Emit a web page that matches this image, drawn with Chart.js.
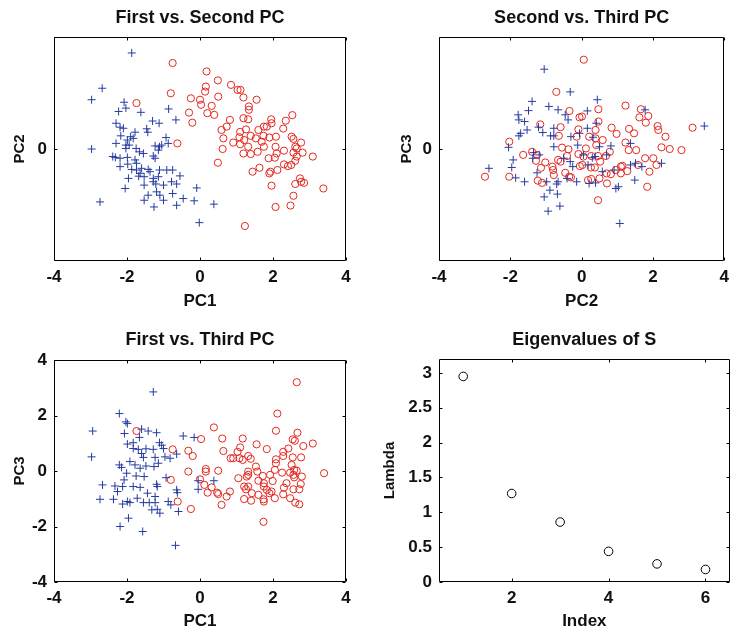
<!DOCTYPE html>
<html>
<head>
  <meta charset="utf-8">
  <title>PCA scores and eigenvalues</title>
  <script src="https://cdn.jsdelivr.net/npm/chart.js"></script>
  <style>
    body { margin: 0; padding: 0; background: #fff; overflow: hidden; }
    #wrap { position: relative; width: 735px; height: 630px; }
    .panel { position: absolute; }
    .panel canvas { display: block; }
  </style>
</head>
<body>
<div id="wrap">
  <div class="panel" style="left:0;top:0"><canvas id="c1" width="367" height="315"></canvas></div>
  <div class="panel" style="left:367px;top:0"><canvas id="c2" width="368" height="315"></canvas></div>
  <div class="panel" style="left:0;top:315px"><canvas id="c3" width="367" height="315"></canvas></div>
  <div class="panel" style="left:367px;top:315px"><canvas id="c4" width="368" height="315"></canvas></div>
</div>

<script>
// scores, [x, y] per point
const pc12Blue = [
  [-1.87,3.43],[-2.68,2.17],[-2.97,1.76],[-2.08,1.67],[-2.03,1.46],[-2.23,1.34],[-1.62,1.31],[-0.86,1.43],
  [-0.66,1.04],[-2.30,0.92],[-2.19,0.78],[-1.30,1.00],[-1.12,0.92],[-1.46,0.72],[-1.43,0.60],[-1.78,0.60],
  [-2.17,0.47],[-1.90,0.44],[-1.99,0.32],[-1.83,0.38],[-2.30,0.20],[-2.03,0.14],[-0.93,0.41],[-1.05,0.14],
  [-1.23,0.11],[-0.87,0.20],[-2.97,0.00],[-2.03,0.02],[-1.75,0.02],[-1.66,-0.10],[-1.55,-0.16],[-1.14,-0.04],
  [-1.28,-0.25],[-1.23,-0.33],[-2.39,-0.27],[-2.19,-0.33],[-1.99,-0.30],[-1.74,-0.51],[-2.19,-0.63],[-1.87,-0.73],
  [-1.74,-0.75],[-1.64,-0.87],[-1.53,-0.99],[-1.42,-0.73],[-1.11,-0.75],[-0.91,-0.75],[-0.75,-0.75],[-0.55,-0.96],
  [-1.96,-1.05],[-1.28,-1.05],[-1.21,-1.25],[-1.53,-1.29],[-1.00,-1.29],[-0.64,-1.25],[-2.05,-1.41],[-1.19,-1.53],
  [-1.42,-1.65],[-1.10,-1.65],[-0.75,-1.59],[-0.09,-1.39],[-1.53,-1.83],[-1.00,-1.83],[-0.46,-1.77],[-0.16,-1.85],
  [0.38,-1.97],[-0.64,-2.01],[-1.26,-2.07],[-2.74,-1.89],[-0.02,-2.63],[-1.94,0.14],[-1.14,-0.99],[-1.37,-0.81],
  [-1.60,-0.69],[-1.68,-0.97],[-1.98,-0.54],[-2.32,-0.30],[-1.11,0.08],[-0.78,-1.17],[-1.28,-1.17],[-1.78,-0.39],
  [-2.10,0.74]
];
const pc12Red = [
  [-0.75,3.07],[0.18,2.77],[0.49,2.45],[0.16,2.23],[0.14,2.05],[-0.80,1.99],[-1.74,1.64],[-0.25,1.81],
  [0.00,1.76],[0.50,1.87],[0.85,2.29],[1.03,2.11],[1.11,2.11],[1.19,1.84],[1.55,1.76],[0.03,1.58],
  [0.32,1.54],[-0.30,1.30],[-0.21,0.94],[0.20,1.28],[0.39,1.22],[1.34,1.52],[1.34,1.40],[0.82,1.04],
  [1.19,1.10],[1.32,1.06],[1.95,1.06],[1.96,0.92],[2.35,1.01],[2.53,1.21],[0.73,0.80],[0.59,0.68],
  [1.83,0.80],[1.60,0.68],[1.10,0.61],[1.26,0.70],[2.28,0.73],[0.64,0.38],[0.91,0.23],[1.08,0.42],
  [1.39,0.47],[1.53,0.38],[1.74,0.47],[2.08,0.44],[2.51,0.44],[2.56,0.36],[2.77,0.23],[1.10,0.17],
  [1.32,0.08],[1.21,0.32],[1.69,0.26],[1.75,0.08],[2.07,0.08],[2.61,0.08],[2.65,0.02],[0.62,0.00],
  [1.19,-0.16],[1.39,-0.18],[1.58,-0.10],[2.30,-0.06],[2.56,-0.13],[2.81,-0.13],[-0.62,0.20],[0.49,-0.49],
  [1.88,-0.33],[2.05,-0.31],[2.65,-0.27],[3.09,-0.27],[1.63,-0.67],[1.44,-0.81],[1.93,-0.81],[2.12,-0.75],
  [2.30,-0.55],[2.41,-0.61],[2.50,-0.57],[2.61,-0.42],[2.74,-1.05],[2.77,-1.17],[2.61,-1.25],[2.85,-1.21],
  [1.96,-1.31],[3.38,-1.41],[2.56,-1.67],[2.07,-2.07],[2.48,-2.02],[1.23,-2.75],[1.90,-0.87],[1.75,0.80],
  [1.90,0.41],[2.10,-0.16]
];
const pc23Blue = [
  [-1.05,2.85],[-0.32,2.04],[0.44,1.76],[-1.39,1.70],[-0.92,1.52],[-0.66,1.40],[-1.49,1.37],[-1.78,1.22],
  [-1.76,1.04],[-1.60,0.98],[-0.46,1.22],[-0.38,1.04],[0.16,1.36],[0.41,0.92],[1.78,1.40],[3.44,0.82],
  [-1.21,0.78],[-1.53,0.68],[-1.71,0.56],[-1.76,0.47],[-1.09,0.59],[-0.78,0.74],[-0.78,0.47],[-0.87,0.47],
  [-0.30,0.44],[0.16,0.74],[-0.06,0.56],[0.32,0.42],[-0.78,0.08],[-2.05,0.06],[-1.92,-0.39],[-1.96,-0.66],
  [-2.60,-0.69],[-1.85,-1.03],[-1.60,-1.17],[-1.35,-0.13],[-1.37,-0.33],[-1.25,-0.85],[-0.98,-1.17],[-0.70,-1.25],
  [-0.68,-1.61],[-0.89,-1.47],[-1.05,-1.71],[-0.94,-2.22],[-0.61,-2.04],[-0.50,-0.33],[-0.32,-0.45],[-0.25,-0.63],
  [-0.11,0.14],[0.18,-0.57],[0.30,-0.31],[-0.14,-1.17],[0.21,-1.23],[0.39,-1.21],[0.58,-0.81],[0.70,-0.21],
  [0.82,0.11],[0.96,-1.41],[1.03,-1.35],[1.07,-2.66],[1.37,0.20],[1.37,-0.57],[1.49,-1.11],[1.51,-0.51],
  [2.24,-0.51],[1.69,-0.63],[0.50,0.08],[-1.19,-0.21],[0.05,-0.21],[0.91,-0.75],[-0.41,-1.05],[-0.66,-1.17],
  [0.38,-0.27]
];
const pc23Red = [
  [0.06,3.19],[-0.71,2.04],[1.23,1.55],[1.66,1.42],[1.62,1.13],[1.87,1.18],[1.80,0.94],[-0.34,1.36],
  [0.01,1.16],[0.47,1.42],[0.47,0.98],[-1.16,0.88],[-0.59,0.78],[-0.09,0.70],[0.39,0.68],[0.84,0.76],
  [1.33,0.72],[0.98,0.54],[1.47,0.56],[2.13,0.82],[2.15,0.68],[2.35,0.44],[3.11,0.76],[-0.64,0.47],
  [-0.14,0.44],[0.21,0.44],[0.39,0.38],[0.59,0.32],[1.23,0.23],[-2.03,0.26],[-0.55,0.05],[-0.37,-0.01],
  [0.12,0.02],[0.41,0.14],[0.79,-0.10],[1.32,-0.04],[1.53,-0.04],[2.24,0.06],[2.47,0.00],[2.80,-0.04],
  [-1.39,-0.10],[-1.64,-0.21],[-1.25,-0.21],[-1.28,-0.42],[-1.02,-0.48],[-1.14,-0.67],[-0.66,-0.39],[-0.59,-0.45],
  [-0.09,-0.18],[0.05,-0.27],[0.27,-0.25],[0.46,-0.25],[0.68,-0.25],[0.52,-0.45],[-0.05,-0.61],[0.02,-0.57],
  [0.37,-0.66],[0.26,-0.66],[-0.82,-0.63],[-0.80,-0.75],[-0.78,-0.93],[-0.46,-0.85],[-0.35,-0.99],[-0.30,-1.01],
  [-2.03,-0.99],[-2.71,-0.99],[-1.23,-1.13],[-1.11,-1.21],[0.18,-1.11],[0.27,-1.07],[0.50,-1.05],[0.71,-1.23],
  [0.70,-0.87],[0.82,-0.90],[0.96,-0.75],[1.10,-0.63],[1.14,-0.60],[1.10,-0.87],[1.28,-0.79],[1.58,-0.57],
  [1.78,-0.33],[2.01,-0.33],[2.10,-0.57],[1.90,-0.81],[1.84,-1.35],[0.46,-1.83],[-0.41,-0.25],[-0.06,1.13]
];
const pc13Blue = [
  [-1.28,2.85],[-2.21,2.07],[-2.03,1.77],[-1.99,1.71],[-2.94,1.44],[-2.07,1.35],[-1.60,1.51],[-1.42,1.44],
  [-1.19,1.38],[-1.66,1.21],[-0.46,1.26],[-0.16,1.21],[-1.99,0.97],[-1.83,1.02],[-1.11,1.02],[-1.05,0.93],
  [-1.83,0.81],[-1.69,0.78],[-1.48,0.80],[-1.28,0.78],[-1.00,0.81],[-2.97,0.51],[-1.60,0.63],[-1.55,0.49],
  [-1.23,0.49],[-0.96,0.51],[-0.82,0.46],[-0.64,0.61],[-2.21,0.22],[-2.15,0.13],[-1.78,0.22],[-1.48,0.18],
  [-1.26,0.16],[-2.01,-0.08],[-1.75,-0.18],[-1.53,-0.20],[-0.93,-0.24],[-2.08,-0.32],[-2.67,-0.50],[-2.33,-0.54],
  [-2.26,-0.74],[-2.12,-0.56],[-1.83,-0.56],[-1.64,-0.59],[-1.19,-0.48],[-1.17,-0.56],[-1.44,-0.80],[-0.64,-0.68],
  [-0.62,-0.78],[-0.05,-0.66],[0.38,-0.35],[-0.05,-0.35],[-2.74,-1.02],[-2.37,-1.02],[-2.12,-1.19],[-1.99,-1.10],
  [-1.92,-1.14],[-1.72,-0.98],[-1.55,-1.14],[-1.39,-1.14],[-1.23,-1.14],[-1.17,-1.38],[-1.10,-1.52],[-0.87,-1.10],
  [-0.80,-1.22],[-0.59,-1.46],[-1.32,-1.40],[-1.96,-1.70],[-2.19,-2.00],[-1.57,-2.18],[-0.67,-2.68],[-1.23,-0.92],
  [-1.92,0.34],[-1.64,0.10],[-1.14,0.28]
];
const pc13Red = [
  [2.65,3.20],[2.12,2.07],[-1.74,1.44],[0.38,1.57],[2.08,1.45],[2.67,1.38],[0.03,1.15],[0.61,1.17],
  [1.17,1.17],[1.55,0.96],[1.83,0.79],[2.54,1.14],[2.60,1.09],[2.42,0.81],[2.83,0.90],[3.09,0.99],
  [-0.75,0.78],[-0.32,0.73],[-0.20,0.54],[0.64,0.72],[1.10,0.85],[1.03,0.69],[0.84,0.46],[0.91,0.46],
  [1.08,0.46],[1.17,0.40],[1.32,0.54],[1.39,0.44],[2.28,0.69],[2.28,0.54],[2.08,0.42],[2.54,0.49],
  [2.77,0.49],[2.08,0.28],[2.51,0.22],[-0.32,-0.02],[0.16,0.07],[0.16,-0.02],[0.50,0.01],[1.53,0.16],
  [1.57,-0.02],[1.32,-0.02],[2.05,0.04],[2.25,-0.06],[2.47,-0.06],[2.58,0.04],[2.65,0.01],[3.40,-0.08],
  [-0.80,-0.32],[0.00,-0.30],[1.05,-0.26],[1.28,-0.20],[1.32,-0.14],[1.60,-0.35],[1.72,-0.18],[1.92,-0.14],
  [1.99,-0.36],[2.37,-0.44],[2.56,-0.14],[2.58,-0.23],[2.79,-0.20],[2.76,-0.47],[0.12,-0.50],[0.21,-0.78],
  [0.32,-0.59],[0.47,-0.78],[0.50,-0.83],[0.73,-0.92],[0.82,-0.74],[1.21,-0.56],[1.26,-0.66],[1.32,-0.56],
  [1.42,-0.80],[1.60,-0.86],[1.75,-0.44],[1.83,-0.68],[1.75,-0.56],[1.90,-0.80],[1.96,-0.74],[2.30,-0.60],
  [2.28,-0.84],[2.56,-0.66],[2.72,-0.66],[1.21,-1.01],[1.40,-1.07],[1.74,-1.02],[1.75,-1.10],[2.05,-0.98],
  [2.47,-0.98],[2.61,-1.14],[2.72,-1.20],[0.59,-1.22],[-0.61,-1.10],[-0.25,-1.37],[1.74,-1.83]
];
const eigIndex = [1, 2, 3, 4, 5, 6];
const eigValues = [2.95, 1.27, 0.86, 0.44, 0.26, 0.18];

const pcTicks = [-4, -2, 0, 2, 4];
const zeroTick = [0];
const indexTicks = [2, 4, 6];
const lambdaTicks = [0, 0.5, 1, 1.5, 2, 2.5, 3];

const BLUE = 'rgb(38,60,160)';
const RED = 'rgb(228,40,32)';

Chart.defaults.font.family = "'Liberation Sans', Arial, Helvetica, sans-serif";
Chart.defaults.font.weight = 'bold';
Chart.defaults.color = '#111';

// matlab style axes: closed box and short inward ticks on all four sides
const matlabBox = {
  id: 'matlabBox',
  afterDraw(chart) {
    const { ctx, chartArea: a, scales } = chart;
    const L = Math.round(a.left) + 0.5, R = Math.round(a.right) - 0.5;
    const T = Math.round(a.top) + 0.5, B = Math.round(a.bottom) - 0.5;
    ctx.save();
    ctx.strokeStyle = '#000';
    ctx.lineWidth = 1;
    ctx.beginPath();
    scales.x.ticks.forEach(t => {
      const px = Math.round(scales.x.getPixelForValue(t.value)) + 0.5;
      ctx.moveTo(px, B); ctx.lineTo(px, B - 3);
      ctx.moveTo(px, T); ctx.lineTo(px, T + 3);
    });
    scales.y.ticks.forEach(t => {
      const py = Math.round(scales.y.getPixelForValue(t.value)) + 0.5;
      ctx.moveTo(L, py); ctx.lineTo(L + 3, py);
      ctx.moveTo(R, py); ctx.lineTo(R - 3, py);
    });
    ctx.rect(L, T, R - L, B - T);
    ctx.stroke();
    ctx.restore();
  }
};

const toXY = arr => arr.map(p => ({ x: p[0], y: p[1] }));

function axis(min, max, tickVals, title, size, titlePad, isY) {
  return {
    type: 'linear',
    min: min,
    max: max,
    grid: { display: false, drawTicks: false },
    border: { display: false },
    afterBuildTicks: s => { s.ticks = tickVals.map(v => ({ value: v })); },
    afterFit: s => { if (isY) s.width = size; else s.height = size; },
    ticks: { padding: isY ? 7 : 6, font: { size: 17, weight: 'bold' }, callback: v => String(v) },
    title: { display: true, text: title, font: { size: isY ? 15 : 17, weight: 'bold' }, padding: titlePad }
  };
}

// panel title as a top axis so it centres over the plot box
function titleAxis(min, max, text, size, padTop) {
  return {
    type: 'linear',
    position: 'top',
    min: min,
    max: max,
    grid: { display: false, drawTicks: false },
    border: { display: false },
    ticks: { display: false },
    afterFit: s => { s.height = size; },
    title: { display: true, text: text, font: { size: 18, weight: 'bold' }, padding: { top: padTop, bottom: 0 } }
  };
}

function makeChart(id, o) {
  new Chart(document.getElementById(id), {
    type: 'scatter',
    data: { datasets: o.datasets },
    options: {
      responsive: false,
      animation: false,
      events: [],
      layout: { padding: { left: 0, right: o.padRight, top: 0, bottom: 0 } },
      plugins: { legend: { display: false }, tooltip: { enabled: false } },
      scales: {
        x: axis(o.xMin, o.xMax, o.xTicks, o.xTitle, o.xHeight, o.xTitlePad, false),
        y: axis(o.yMin, o.yMax, o.yTicks, o.yTitle, o.yWidth, o.yTitlePad, true),
        top: titleAxis(o.xMin, o.xMax, o.title, o.topHeight, o.titleTop)
      }
    },
    plugins: [matlabBox]
  });
}

function pcSets(blue, red) {
  return [
    { data: toXY(blue), pointStyle: 'cross', radius: 4, borderWidth: 1, borderColor: BLUE, backgroundColor: BLUE },
    { data: toXY(red), pointStyle: 'circle', radius: 3.6, borderWidth: 1, borderColor: RED, backgroundColor: 'rgba(0,0,0,0)' }
  ];
}

makeChart('c1', {
  title: 'First vs. Second PC', topHeight: 37, titleTop: 7,
  datasets: pcSets(pc12Blue, pc12Red),
  xMin: -4, xMax: 4, xTicks: pcTicks, xTitle: 'PC1', xHeight: 54, xTitlePad: { top: 0, bottom: 3 },
  yMin: -4, yMax: 4, yTicks: zeroTick, yTitle: 'PC2', yWidth: 54, yTitlePad: { top: 11, bottom: 0 },
  padRight: 21
});

makeChart('c2', {
  title: 'Second vs. Third PC', topHeight: 37, titleTop: 7,
  datasets: pcSets(pc23Blue, pc23Red),
  xMin: -4, xMax: 4, xTicks: pcTicks, xTitle: 'PC2', xHeight: 54, xTitlePad: { top: 0, bottom: 3 },
  yMin: -4, yMax: 4, yTicks: zeroTick, yTitle: 'PC3', yWidth: 72, yTitlePad: { top: 31, bottom: 0 },
  padRight: 5
});

makeChart('c3', {
  title: 'First vs. Third PC', topHeight: 45, titleTop: 14,
  datasets: pcSets(pc13Blue, pc13Red),
  xMin: -4, xMax: 4, xTicks: pcTicks, xTitle: 'PC1', xHeight: 48, xTitlePad: { top: 0, bottom: -2 },
  yMin: -4, yMax: 4, yTicks: pcTicks, yTitle: 'PC3', yWidth: 54, yTitlePad: { top: 11, bottom: 0 },
  padRight: 21
});

makeChart('c4', {
  title: 'Eigenvalues of S', topHeight: 44, titleTop: 14,
  datasets: [{
    data: eigIndex.map((k, i) => ({ x: k, y: eigValues[i] })),
    pointStyle: 'circle', radius: 4.3, borderWidth: 1, borderColor: '#000', backgroundColor: 'rgba(0,0,0,0)'
  }],
  xMin: 0.5, xMax: 6.5, xTicks: indexTicks, xTitle: 'Index', xHeight: 48, xTitlePad: { top: 0, bottom: -2 },
  yMin: 0, yMax: 3.2, yTicks: lambdaTicks, yTitle: 'Lambda', yWidth: 72, yTitlePad: { top: 14, bottom: 0 },
  padRight: 5
});
</script>
</body>
</html>
